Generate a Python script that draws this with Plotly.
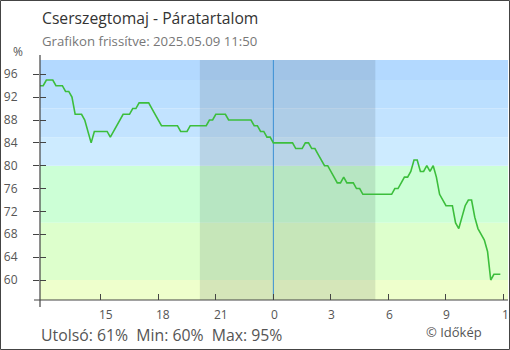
import pandas as pd
import plotly.graph_objects as go

# Relative humidity (%) every 10 minutes, 2025-05-08 11:50 -> 2025-05-09 11:50
start_time = "2025-05-08 11:50"
humidity = [
    94, 94, 95, 95, 95, 94, 94, 94, 93, 93,
    92, 89, 89, 89, 88, 86, 84, 86, 86, 86,
    86, 86, 85, 86, 87, 88, 89, 89, 89, 90,
    90, 91, 91, 91, 91, 90, 89, 88, 87, 87,
    87, 87, 87, 87, 86, 86, 86, 87, 87, 87,
    87, 87, 87, 88, 88, 89, 89, 89, 89, 88,
    88, 88, 88, 88, 88, 88, 88, 87, 87, 86,
    86, 85, 85, 84, 84, 84, 84, 84, 84, 84,
    83, 83, 83, 84, 84, 83, 83, 82, 81, 80,
    80, 79, 78, 77, 77, 78, 77, 77, 77, 76,
    76, 75, 75, 75, 75, 75, 75, 75, 75, 75,
    75, 76, 76, 77, 78, 78, 79, 81, 81, 79,
    79, 80, 79, 80, 78, 75, 74, 73, 73, 73,
    70, 69, 71, 73, 74, 74, 71, 69, 68, 67,
    65, 60, 61, 61, 61,
]
times = pd.date_range(start_time, periods=len(humidity), freq="10min")

# Axis setup
x_range = ["2025-05-08 11:50", "2025-05-09 12:14"]
y_range = [56.5, 98.5]
y_ticks = [60, 64, 68, 72, 76, 80, 84, 88, 92, 96]
x_tick_times = ["2025-05-08 15:00", "2025-05-08 18:00", "2025-05-08 21:00",
                "2025-05-09 00:00", "2025-05-09 03:00", "2025-05-09 06:00",
                "2025-05-09 09:00", "2025-05-09 12:00"]
x_tick_labels = ["15", "18", "21", "0", "3", "6", "9", "12"]

# Humidity colour bands (lower, upper, colour)
band_edges = [56.5, 60, 70, 80, 85, 90, 95, 98.5]
band_colors = ["#eeffcc", "#ddffcc", "#ccffd6", "#cdebff", "#c2e3ff", "#bbdfff", "#b3d9ff"]

# Night period and midnight marker
night = ["2025-05-08 20:10", "2025-05-09 05:19"]
midnight = "2025-05-09 00:00"

title = "Cserszegtomaj - Páratartalom"
subtitle = "Grafikon frissítve: 2025.05.09 11:50"
credit = "© Időkép"

FONT = "Open Sans"
W, H = 510, 350
ML, MR, MT, MB = 40, 2, 60, 50
PW, PH = W - ML - MR, H - MT - MB


def px_x(p):
    return (p - ML) / PW


def px_y(p):
    return (H - MB - p) / PH


fig = go.Figure()
fig.add_trace(go.Scatter(
    x=times, y=humidity, mode="lines",
    line=dict(color="#3cbe3c", width=1.6),
    hoverinfo="skip", showlegend=False,
))
fig.add_trace(go.Scatter(x=[], y=[], yaxis="y2", showlegend=False))

shapes = []
for lo, hi, col in zip(band_edges[:-1], band_edges[1:], band_colors):
    shapes.append(dict(type="rect", xref="paper", yref="y", x0=0, x1=1, y0=lo, y1=hi,
                       fillcolor=col, line_width=0, layer="below"))
shapes.append(dict(type="rect", xref="x", yref="paper", x0=night[0], x1=night[1], y0=0, y1=1,
                   fillcolor="rgba(20,30,40,0.11)", line_width=0, layer="below"))
shapes.append(dict(type="line", xref="x", yref="paper", x0=midnight, x1=midnight, y0=0, y1=1,
                   line=dict(color="#3a8fd4", width=1), layer="below"))
# axis lines, slightly overhanging the plot corner
shapes.append(dict(type="line", xref="paper", yref="paper", x0=0, x1=0,
                   y0=px_y(307), y1=px_y(55), line=dict(color="#444", width=1.2)))
shapes.append(dict(type="line", xref="paper", yref="paper", x0=px_x(34), x1=1,
                   y0=0, y1=0, line=dict(color="#444", width=1.2)))
# outer frame
shapes.append(dict(type="rect", xref="paper", yref="paper",
                   x0=px_x(0.5), x1=px_x(W - 0.5), y0=px_y(H - 0.5), y1=px_y(0.5),
                   line=dict(color="#444", width=1), fillcolor="rgba(0,0,0,0)"))

stats = f"Utolsó: {humidity[-1]}%\u00a0\u00a0Min: {min(humidity)}%\u00a0\u00a0Max: {max(humidity)}%"

annotations = [
    dict(text=title, xref="paper", yref="paper", x=0, y=px_y(17.5), xanchor="left",
         yanchor="middle", showarrow=False, font=dict(family=FONT, size=15.7, color="#333")),
    dict(text=subtitle, xref="paper", yref="paper", x=0, y=px_y(41), xanchor="left",
         yanchor="middle", showarrow=False, font=dict(family=FONT, size=13.2, color="#777")),
    dict(text="%", xref="paper", yref="paper", x=px_x(17.5), y=px_y(52), xanchor="center",
         yanchor="middle", showarrow=False, font=dict(family=FONT, size=12, color="#555")),
    dict(text=stats, xref="paper", yref="paper", x=0, y=px_y(334.5), xanchor="left",
         yanchor="middle", showarrow=False, borderpad=0,
         font=dict(family=FONT, size=15.8, color="#555")),
    dict(text=credit, xref="paper", yref="paper", x=px_x(425), y=px_y(332), xanchor="left",
         yanchor="middle", showarrow=False, borderpad=0,
         font=dict(family=FONT, size=13, color="#555")),
]
# hour labels sit just right of their tick marks
for t, lab in zip(x_tick_times, x_tick_labels):
    annotations.append(dict(
        text=lab, xref="x", yref="paper", x=t, y=px_y(314.5), xanchor="left",
        yanchor="middle", xshift=-3 if len(lab) > 1 else -3.5, showarrow=False,
        borderpad=0, font=dict(family=FONT, size=12, color="#555"),
    ))

fig.update_layout(
    width=W, height=H,
    margin=dict(l=ML, r=MR, t=MT, b=MB),
    paper_bgcolor="white", plot_bgcolor="white",
    shapes=shapes, annotations=annotations,
    showlegend=False,
    xaxis=dict(
        type="date", range=x_range, tickvals=x_tick_times,
        ticks="inside", ticklen=6, tickcolor="#444", tickwidth=1.2,
        showticklabels=False,
        showgrid=False, zeroline=False, showline=False,
    ),
    yaxis=dict(
        range=y_range, tickvals=y_ticks, ticks="outside", ticklen=6,
        tickcolor="#444", tickwidth=1.2, ticklabelstandoff=13,
        showgrid=False, zeroline=False, showline=False,
        tickfont=dict(family=FONT, size=12, color="#555"),
    ),
    yaxis2=dict(
        overlaying="y", anchor="x", side="left", range=y_range, tickvals=y_ticks,
        ticks="inside", ticklen=6, tickcolor="#444", tickwidth=1.2,
        showticklabels=False, showgrid=False, zeroline=False, showline=False,
    ),
)

fig.write_html("out.html")
